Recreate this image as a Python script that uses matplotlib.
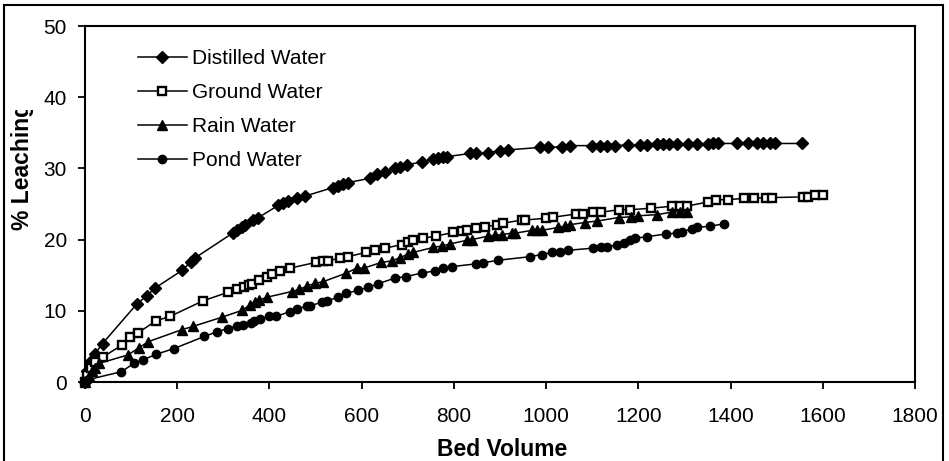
import matplotlib
matplotlib.use("Agg")
import matplotlib.pyplot as plt
from matplotlib.patches import Rectangle
from matplotlib.transforms import Bbox

plt.rcParams['font.family'] = ['Liberation Sans', 'DejaVu Sans']

distilled_x = [0, 5, 14, 21, 38, 113, 134, 152, 211, 230, 238, 320, 329, 340, 347, 365, 376,
               419, 430, 441, 459, 477, 537, 548, 559, 570, 617, 633, 651, 672, 683, 698,
               730, 755, 766, 777, 785, 835, 849, 875, 900, 918, 987, 1005, 1034, 1052,
               1099, 1117, 1131, 1149, 1178, 1204, 1218, 1240, 1254, 1267, 1283, 1308,
               1327, 1352, 1363, 1373, 1413, 1438, 1457, 1471, 1486, 1497, 1554]
distilled_y = [0, 1.5, 2.9, 3.9, 5.4, 11.0, 12.1, 13.2, 15.7, 16.9, 17.4, 20.9, 21.3, 21.8, 22.1,
               22.7, 23.1, 24.8, 25.1, 25.4, 25.9, 26.1, 27.3, 27.5, 27.8, 28.0, 28.6, 29.2,
               29.5, 30.0, 30.2, 30.5, 30.9, 31.3, 31.4, 31.6, 31.65, 32.1, 32.1, 32.2, 32.5,
               32.6, 32.95, 32.95, 33.05, 33.2, 33.2, 33.2, 33.2, 33.2, 33.3, 33.3, 33.35,
               33.4, 33.4, 33.4, 33.4, 33.4, 33.45, 33.45, 33.5, 33.5, 33.5, 33.5, 33.5,
               33.5, 33.5, 33.5, 33.5]

ground_x = [0, 5, 12, 22, 40, 80, 97, 115, 154, 184, 256, 310, 330, 344, 355, 362, 378, 394,
            405, 423, 445, 501, 517, 526, 553, 570, 609, 629, 651, 687, 701, 712, 734, 761,
            799, 817, 828, 849, 867, 893, 907, 947, 954, 1000, 1016, 1065, 1081, 1102, 1120,
            1158, 1182, 1227, 1274, 1290, 1305, 1352, 1369, 1395, 1429, 1451, 1477, 1489,
            1558, 1569, 1583, 1601]
ground_y = [0, 1.0, 2.0, 2.8, 3.55, 5.2, 6.3, 6.9, 8.6, 9.2, 11.4, 12.6, 13.06, 13.3, 13.6,
            13.8, 14.3, 14.8, 15.2, 15.6, 16.0, 16.8, 17.0, 17.0, 17.4, 17.6, 18.2, 18.5,
            18.8, 19.3, 19.7, 19.9, 20.2, 20.5, 21.0, 21.2, 21.35, 21.6, 21.8, 22.05, 22.3,
            22.75, 22.75, 23.0, 23.15, 23.6, 23.6, 23.85, 23.85, 24.2, 24.2, 24.4, 24.7,
            24.7, 24.7, 25.3, 25.6, 25.6, 25.8, 25.8, 25.9, 25.9, 26.0, 26.0, 26.2, 26.3]

rain_x = [0, 8, 15, 22, 30, 93, 117, 137, 210, 234, 297, 340, 357, 368, 378, 394, 448, 465,
          482, 499, 517, 567, 589, 605, 643, 665, 683, 701, 712, 755, 774, 792, 828, 839,
          875, 889, 904, 925, 933, 969, 980, 990, 1026, 1041, 1052, 1084, 1110, 1157, 1185,
          1200, 1240, 1272, 1290, 1305]
rain_y = [0, 0.8, 1.5, 2.0, 2.6, 3.8, 4.8, 5.66, 7.35, 7.8, 9.1, 10.05, 10.8, 11.2, 11.5,
          11.9, 12.7, 13.0, 13.5, 13.85, 14.1, 15.3, 16.0, 16.0, 16.8, 17.0, 17.45, 18.0,
          18.2, 18.9, 19.1, 19.4, 19.9, 20.0, 20.5, 20.6, 20.7, 20.9, 20.9, 21.3, 21.3,
          21.3, 21.7, 21.9, 22.1, 22.4, 22.6, 23.1, 23.2, 23.35, 23.5, 23.85, 23.9, 23.9]

pond_x = [0, 5, 79, 107, 125, 155, 193, 259, 287, 310, 329, 342, 359, 366, 380, 398, 414,
          445, 459, 481, 489, 513, 524, 549, 567, 593, 614, 636, 672, 696, 730, 759, 777,
          795, 849, 864, 896, 965, 990, 1012, 1030, 1048, 1102, 1120, 1131, 1153, 1168,
          1182, 1193, 1218, 1261, 1283, 1294, 1316, 1327, 1356, 1385]
pond_y = [0, 0.3, 1.45, 2.65, 3.1, 3.9, 4.7, 6.4, 7.07, 7.5, 7.85, 8.05, 8.3, 8.6, 8.85,
          9.2, 9.2, 9.9, 10.2, 10.7, 10.7, 11.2, 11.4, 11.9, 12.45, 12.9, 13.3, 13.8, 14.6,
          14.8, 15.3, 15.6, 16.0, 16.2, 16.6, 16.75, 17.1, 17.6, 17.9, 18.2, 18.2, 18.5,
          18.8, 18.9, 19.0, 19.2, 19.55, 19.9, 20.2, 20.4, 20.8, 20.9, 21.1, 21.5, 21.7,
          21.9, 22.2]

series_labels = ["Distilled Water", "Ground Water", "Rain Water", "Pond Water"]
x_ticks = [0, 200, 400, 600, 800, 1000, 1200, 1400, 1600, 1800]
y_ticks = [0, 10, 20, 30, 40, 50]

W, H = 949, 461
fig = plt.figure(figsize=(W / 100, H / 100), dpi=100)
fig.patch.set_facecolor('white')

# outer chart frame (bottom edge outside the image)
fig.patches.append(Rectangle((4 / W, -10 / H), (943 - 4) / W, (H - 5 + 10) / H,
                             transform=fig.transFigure, fill=False,
                             edgecolor='black', linewidth=1.5))

ax = fig.add_axes([85 / W, 1 - 382 / H, (915 - 85) / W, (382 - 26) / H])

lw = 1.1
ax.plot(distilled_x, distilled_y, color='black', lw=lw, marker='D', ms=6.3,
        mfc='black', mec='black', label=series_labels[0], clip_on=False, zorder=3)
ax.plot(ground_x, ground_y, color='black', lw=lw, marker='s', ms=6,
        mfc='white', mec='black', mew=1.7, label=series_labels[1], clip_on=False, zorder=3)
ax.plot(rain_x, rain_y, color='black', lw=lw, marker='^', ms=7.5,
        mfc='black', mec='black', label=series_labels[2], clip_on=False, zorder=3)
ax.plot(pond_x, pond_y, color='black', lw=lw, marker='o', ms=6,
        mfc='black', mec='black', label=series_labels[3], clip_on=False, zorder=3)

ax.set_xlim(0, 1800)
ax.set_ylim(0, 50)
ax.set_xticks(x_ticks)
ax.set_yticks(y_ticks)
for s in ax.spines.values():
    s.set_linewidth(1.5)
ax.tick_params(axis='both', direction='out', length=5, width=1.3, labelsize=15,
               top=False, right=False)
ax.tick_params(axis='x', pad=13)
ax.tick_params(axis='y', pad=8)

ax.set_xlabel("Bed Volume", fontsize=16.5, fontweight='bold')
ax.xaxis.set_label_coords(0.502, -0.191)
ax.xaxis.label.set_va('center')

yl = fig.text(22 / W, 1 - 230 / H, "% Leaching", rotation=90, fontsize=16.5,
              fontweight='bold', ha='center', va='bottom')
yl.set_clip_box(Bbox.from_extents(0, 0, W, H - 110))
yl.set_clip_on(True)

leg = ax.legend(loc='upper left', bbox_to_anchor=(138 / W, 1 - 49 / H),
                bbox_transform=fig.transFigure, frameon=False, fontsize=15,
                handlelength=2.35, handletextpad=0.25, labelspacing=0.72,
                borderpad=0, borderaxespad=0, numpoints=1, markerscale=1.0)

fig.savefig("out.png", dpi=100, facecolor='white')
